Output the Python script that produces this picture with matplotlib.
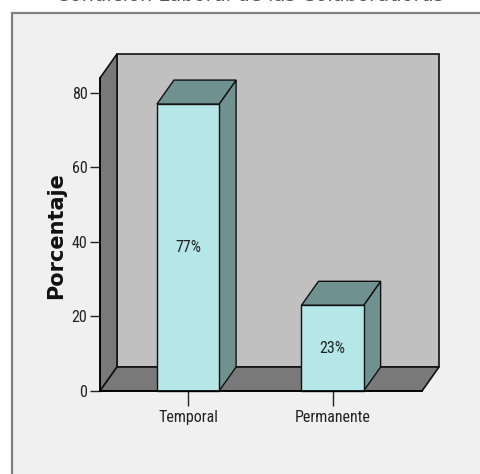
import matplotlib
matplotlib.use("Agg")
import matplotlib.pyplot as plt
from matplotlib.patches import Rectangle, Polygon

categories = ["Temporal", "Permanente"]
percent = [77, 23]
bar_labels = ["77%", "23%"]
yticks = [0, 20, 40, 60, 80]

W, H = 481, 474
narrow = ["Liberation Sans Narrow", "DejaVu Sans Condensed", "Roboto Condensed", "Liberation Sans"]

fig = plt.figure(figsize=(W / 100, H / 100), dpi=100)
fig.patch.set_facecolor("white")

# framed panel behind the chart
fig.patches.append(Rectangle((12 / W, -0.01), 1.0, (H - 13) / H + 0.01,
                             transform=fig.transFigure, facecolor="#f0f0f0",
                             edgecolor="#808080", linewidth=1.6, zorder=-5))

# front plane of the 3D box
x0, x1 = 100, 422
ybot, ytop = 391, 78
ax = fig.add_axes([x0 / W, (H - ybot) / H, (x1 - x0) / W, (ybot - ytop) / H])
ax.set_zorder(2)
ax.patch.set_visible(False)
xlo, xhi = -0.609, 1.619
ymax = 84
ax.set_xlim(xlo, xhi)
ax.set_ylim(0, ymax)

# depth of the box, converted from pixels to data units
px_x = (x1 - x0) / (xhi - xlo)
px_y = (ybot - ytop) / ymax
dx, dy = 17 / px_x, 24 / px_y

wall_dark = "#797979"
wall_back = "#c0c0c0"
edge = "#111111"

ax.add_patch(Polygon([(xlo + dx, dy), (xhi + dx, dy), (xhi + dx, ymax + dy), (xlo + dx, ymax + dy)],
                     closed=True, facecolor=wall_back, edgecolor=edge, linewidth=1.2, clip_on=False, zorder=1))
ax.add_patch(Polygon([(xlo, 0), (xlo + dx, dy), (xlo + dx, ymax + dy), (xlo, ymax)],
                     closed=True, facecolor=wall_dark, edgecolor=edge, linewidth=1.2, clip_on=False, zorder=2))
ax.add_patch(Polygon([(xlo, 0), (xhi, 0), (xhi + dx, dy), (xlo + dx, dy)],
                     closed=True, facecolor=wall_dark, edgecolor=edge, linewidth=1.2, clip_on=False, zorder=2))

bw = 0.43
front = "#b5e6e8"
shade = "#6f9190"
for i, (v, lab) in enumerate(zip(percent, bar_labels)):
    l, r = i - bw / 2, i + bw / 2
    ax.add_patch(Polygon([(r, 0), (r + dx, dy), (r + dx, v + dy), (r, v)],
                         closed=True, facecolor=shade, edgecolor=edge, linewidth=1.0, clip_on=False, zorder=3))
    ax.add_patch(Polygon([(l, v), (r, v), (r + dx, v + dy), (l + dx, v + dy)],
                         closed=True, facecolor=shade, edgecolor=edge, linewidth=1.0, clip_on=False, zorder=3))
    ax.add_patch(Rectangle((l, 0), bw, v, facecolor=front, edgecolor=edge, linewidth=1.0,
                           clip_on=False, zorder=4))
    ax.text(i, v / 2, lab, ha="center", va="center", fontsize=11.5, family=narrow,
            color="#222222", zorder=5)

for s in ["top", "right"]:
    ax.spines[s].set_visible(False)
for s in ["left", "bottom"]:
    ax.spines[s].set_zorder(6)
    ax.spines[s].set_linewidth(1.2)

ax.set_yticks(yticks)
ax.set_yticklabels([str(t) for t in yticks], family=narrow, fontsize=11.5)
ax.set_xticks(range(len(categories)))
ax.set_xticklabels(categories, family=narrow, fontsize=11.5)
ax.tick_params(axis="y", length=7, width=1, pad=2, colors="#222222")
ax.tick_params(axis="x", length=11, width=1, pad=3, colors="#222222")

fig.text(56 / W, (H - 236) / H, "Porcentaje", rotation=90, ha="center", va="center",
         fontsize=15, fontweight="bold", color="#111111")

# chart title, mostly above the top edge
fig.text(250 / W, (H - 0.6) / H, "Condición Laboral de las Colaboradoras", ha="center",
         va="baseline", fontsize=14, color="#555555")

fig.savefig("out.png", dpi=100)
